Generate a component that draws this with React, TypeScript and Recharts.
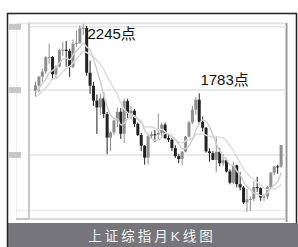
import React from 'react';
import { ComposedChart, Bar, Line, XAxis, YAxis, CartesianGrid, ReferenceDot } from 'recharts';

// monthly K-line, 2000-04 .. 2006-04
const months = [
  '2000-04', '2000-05', '2000-06', '2000-07', '2000-08', '2000-09', '2000-10', '2000-11', '2000-12',
  '2001-01', '2001-02', '2001-03', '2001-04', '2001-05', '2001-06', '2001-07', '2001-08', '2001-09', '2001-10', '2001-11', '2001-12',
  '2002-01', '2002-02', '2002-03', '2002-04', '2002-05', '2002-06', '2002-07', '2002-08', '2002-09', '2002-10', '2002-11', '2002-12',
  '2003-01', '2003-02', '2003-03', '2003-04', '2003-05', '2003-06', '2003-07', '2003-08', '2003-09', '2003-10', '2003-11', '2003-12',
  '2004-01', '2004-02', '2004-03', '2004-04', '2004-05', '2004-06', '2004-07', '2004-08', '2004-09', '2004-10', '2004-11', '2004-12',
  '2005-01', '2005-02', '2005-03', '2005-04', '2005-05', '2005-06', '2005-07', '2005-08', '2005-09', '2005-10', '2005-11', '2005-12',
  '2006-01', '2006-02', '2006-03', '2006-04',
];

const opens = [
  1800, 1836, 1894, 1928, 2023, 2024, 1910, 1961, 2070,
  2073, 2065, 1959, 2112, 2119, 2214, 2218, 1920, 1834, 1735, 1690, 1750,
  1646, 1490, 1524, 1604, 1661, 1515, 1732, 1653, 1669, 1581, 1507, 1436,
  1357, 1500, 1512, 1510, 1521, 1576, 1487, 1476, 1421, 1367, 1348, 1397,
  1497, 1590, 1675, 1741, 1595, 1555, 1399, 1387, 1342, 1396, 1320, 1340,
  1266, 1191, 1306, 1181, 1159, 1060, 1080, 1083, 1162, 1155, 1092, 1099,
  1161, 1258, 1299, 1298,
];
const highs = [
  1862, 1900, 1948, 2030, 2114, 2030, 1970, 2080, 2125,
  2131, 2080, 2140, 2200, 2235, 2245, 2230, 2000, 1860, 1776, 1780, 1790,
  1660, 1530, 1610, 1690, 1685, 1748, 1747, 1700, 1680, 1590, 1520, 1440,
  1520, 1530, 1540, 1649, 1590, 1590, 1520, 1490, 1440, 1380, 1400, 1500,
  1600, 1700, 1760, 1783, 1630, 1560, 1420, 1400, 1500, 1420, 1380, 1350,
  1280, 1330, 1310, 1260, 1170, 1150, 1100, 1200, 1230, 1160, 1110, 1170,
  1260, 1300, 1310, 1440,
];
const lows = [
  1760, 1790, 1860, 1915, 1980, 1875, 1880, 1955, 2030,
  1960, 1893, 1950, 2090, 2110, 2170, 1900, 1780, 1700, 1514, 1640, 1620,
  1380, 1400, 1510, 1560, 1480, 1455, 1620, 1610, 1560, 1500, 1400, 1311,
  1311, 1480, 1460, 1480, 1500, 1480, 1460, 1400, 1355, 1320, 1307, 1390,
  1490, 1580, 1640, 1580, 1530, 1390, 1330, 1340, 1260, 1300, 1300, 1259,
  1180, 1180, 1160, 1140, 1050, 998, 1004, 1070, 1130, 1070, 1070, 1080,
  1150, 1240, 1250, 1290,
];
const closes = [
  1836, 1894, 1928, 2023, 2024, 1910, 1961, 2070, 2073,
  2065, 1959, 2112, 2119, 2214, 2218, 1920, 1834, 1735, 1690, 1750, 1646,
  1490, 1524, 1604, 1661, 1515, 1732, 1653, 1669, 1581, 1507, 1436, 1357,
  1500, 1512, 1510, 1521, 1576, 1487, 1476, 1421, 1367, 1348, 1397, 1497,
  1590, 1675, 1741, 1595, 1555, 1399, 1387, 1342, 1396, 1320, 1340, 1266,
  1191, 1306, 1181, 1159, 1060, 1080, 1083, 1162, 1155, 1092, 1099, 1161,
  1258, 1299, 1298, 1440,
];
// the pale average lines behind the candles
const avgFast = [
  1790, 1820, 1850, 1880, 1920, 1936, 1957, 1986, 2010,
  2017, 2006, 2040, 2066, 2090, 2115, 2090, 2070, 2007, 1935, 1858, 1763,
  1691, 1639, 1617, 1613, 1573, 1588, 1615, 1639, 1635, 1610, 1596, 1534,
  1508, 1482, 1470, 1473, 1496, 1518, 1514, 1499, 1475, 1446, 1416, 1418,
  1437, 1479, 1541, 1583, 1609, 1593, 1559, 1503, 1446, 1400, 1364, 1342,
  1309, 1303, 1267, 1241, 1194, 1163, 1145, 1121, 1117, 1105, 1112, 1125,
  1155, 1177, 1201, 1259,
];
const avgSlow = [
  1760, 1780, 1800, 1820, 1850, 1880, 1880, 1903, 1930,
  1949, 1963, 1988, 2012, 2038, 2063, 2054, 2038, 2024, 2001, 1974, 1939,
  1891, 1855, 1812, 1774, 1716, 1676, 1653, 1639, 1626, 1612, 1585, 1561,
  1562, 1561, 1553, 1542, 1546, 1526, 1511, 1491, 1473, 1460, 1456, 1468,
  1476, 1489, 1508, 1515, 1513, 1506, 1498, 1491, 1494, 1492, 1487, 1468,
  1434, 1403, 1357, 1321, 1279, 1253, 1227, 1212, 1192, 1173, 1153, 1144,
  1150, 1149, 1159, 1182,
];

const yTicks = [1375, 1805, 2225];
const callouts = [
  { month: '2001-06', value: 2245, text: '2245点' },
  { month: '2004-04', value: 1783, text: '1783点' },
];

const data = months.map((m, i) => ({
  month: m,
  open: opens[i],
  high: highs[i],
  low: lows[i],
  close: closes[i],
  range: [lows[i], highs[i]],
  avgFast: avgFast[i],
  avgSlow: avgSlow[i],
}));

const FONT = '"Liberation Sans", Arial, "Noto Sans CJK SC", sans-serif';

function Candle(props: any) {
  const { x, y, width, height, payload } = props;
  if (!payload) return null;
  const top = Math.min(y, y + height);
  const bot = Math.max(y, y + height);
  const span = bot - top;
  const ppu = payload.high === payload.low ? 0 : span / (payload.high - payload.low);
  const bTop = top + (payload.high - Math.max(payload.open, payload.close)) * ppu;
  const bBot = top + (payload.high - Math.min(payload.open, payload.close)) * ppu;
  const up = payload.close >= payload.open;
  const color = up ? '#8e8e8e' : '#222';
  const cx = x + width / 2;
  return (
    <g>
      <line x1={cx} x2={cx} y1={top} y2={bot} stroke={color} strokeWidth={1} />
      <rect x={x} y={bTop} width={width} height={Math.max(1, bBot - bTop)} fill={color} />
    </g>
  );
}

function TickBlob(props: any) {
  const { x, y } = props;
  return <rect x={x - 13} y={y - 3} width={13} height={6} fill="#c6c6c6" />;
}

function Callout(props: any) {
  const { viewBox, text, dx, dy } = props;
  if (!viewBox) return null;
  return (
    <text x={viewBox.x + dx} y={viewBox.y + dy} fontSize={15} fill="#111" fontFamily={FONT}>
      {text}
    </text>
  );
}

export default function App() {
  return (
    <div style={{ position: 'absolute', left: 0, top: 0, width: 298, height: 247, background: '#fff' }}>
      <svg width={298} height={247} style={{ position: 'absolute', left: 0, top: 0 }}>
        <line x1={16} x2={286} y1={23.5} y2={23.5} stroke="#ececec" strokeWidth={2} />
        <line x1={16.5} x2={16.5} y1={23} y2={221} stroke="#f0f0f0" strokeWidth={1} />
        <line x1={16} x2={286} y1={210.5} y2={210.5} stroke="#ececec" strokeWidth={1.5} />
        <line x1={16} x2={287} y1={219} y2={219} stroke="#c4c4c4" strokeWidth={2} />
        <line x1={286.5} x2={286.5} y1={23} y2={222} stroke="#9a9a9a" strokeWidth={2} />
        <rect x={8} y={223} width={290} height={24} fill="#76767a" />
        <text x={152} y={241} textAnchor="middle" fontSize={13.5} letterSpacing={3} fill="#f4f4f4"
          fontFamily={FONT}>上证综指月K线图</text>
        <line x1={7.5} x2={7.5} y1={13} y2={247} stroke="#222" strokeWidth={1.5} />
        <line x1={7} x2={297} y1={13.5} y2={13.5} stroke="#222" strokeWidth={1.5} />
        <line x1={296.5} x2={296.5} y1={13} y2={223} stroke="#222" strokeWidth={1.5} />
      </svg>
      <div style={{ position: 'absolute', left: 0, top: 0 }}>
        <ComposedChart width={298} height={247} data={data}
          margin={{ top: 23, right: 12, bottom: 28, left: 16 }}>
          <CartesianGrid horizontal vertical={false} stroke="#e2e2e2" strokeWidth={1.5} />
          <XAxis dataKey="month" hide padding={{ left: 5, right: 3 }} />
          <YAxis width={13} domain={[950, 2250]} ticks={yTicks} allowDataOverflow
            tick={<TickBlob />} tickLine={false} axisLine={{ stroke: '#c8c8c8', strokeWidth: 2 }} />
          <Line dataKey="avgSlow" type="monotone" stroke="#dcdcdc" strokeWidth={1.5} dot={false} isAnimationActive={false} />
          <Line dataKey="avgFast" type="monotone" stroke="#cfcfcf" strokeWidth={1.5} dot={false} isAnimationActive={false} />
          <Bar dataKey="range" barSize={3} shape={<Candle />} isAnimationActive={false} />
          <ReferenceDot x={callouts[0].month} y={callouts[0].value} r={0}
            label={<Callout text={callouts[0].text} dx={4} dy={15} />} />
          <ReferenceDot x={callouts[1].month} y={callouts[1].value} r={0}
            label={<Callout text={callouts[1].text} dx={1} dy={-8} />} />
        </ComposedChart>
      </div>
    </div>
  );
}
